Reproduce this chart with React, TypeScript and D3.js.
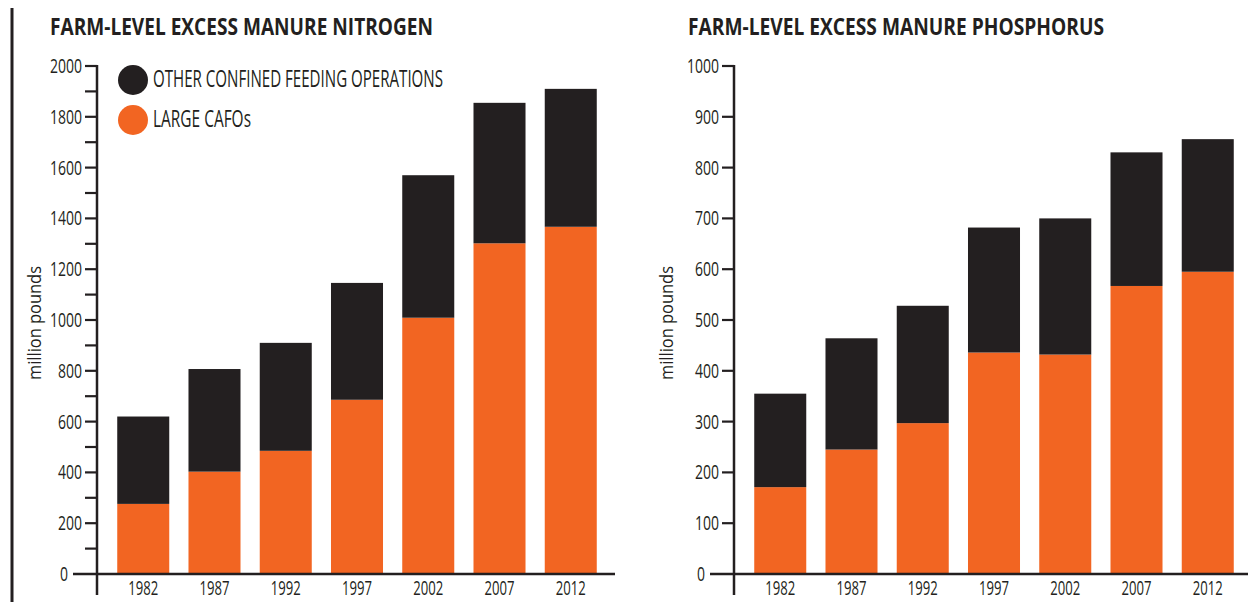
import React from 'react';
import * as d3 from 'd3';

const years = ['1982', '1987', '1992', '1997', '2002', '2007', '2012'];
const nitrogenCafo = [276, 403, 485, 686, 1009, 1302, 1367];
const nitrogenOther = [344, 404, 425, 460, 561, 553, 543];
const phosphorusCafo = [171, 245, 297, 436, 432, 567, 595];
const phosphorusOther = [184, 219, 231, 246, 268, 263, 261];
const seriesNames = ['LARGE CAFOs', 'OTHER CONFINED FEEDING OPERATIONS'];
const seriesColors = ['#F26522', '#231F20'];
const titles = ['FARM-LEVEL EXCESS MANURE NITROGEN', 'FARM-LEVEL EXCESS MANURE PHOSPHORUS'];
const yLabel = 'million pounds';

const INK = '#231F20';
const FONT = "'Open Sans', 'Noto Sans', sans-serif";
const Y0 = 574;
const YTOP = 66;

type PanelProps = {
  axisX: number;
  title: string;
  titleX: number;
  titleW: number;
  cafo: number[];
  other: number[];
  yMax: number;
  labelEvery: number;
  labelX: number;
  baselineEnd: number;
};

function Panel(p: PanelProps) {
  const y = d3.scaleLinear().domain([0, p.yMax]).range([Y0, YTOP]);
  const x = d3
    .scaleBand<string>()
    .domain(years)
    .range([p.axisX + 1, p.axisX + 519])
    .paddingInner(0.27)
    .paddingOuter(0.27);
  const rows = years.map((yr, i) => ({ year: yr, cafo: p.cafo[i], other: p.other[i] }));
  const stacked = d3.stack<any>().keys(['cafo', 'other'])(rows);
  const ticks = y.ticks(p.yMax / 100);
  return (
    <g>
      <text
        x={p.titleX}
        y={35}
        fontFamily={FONT}
        fontWeight={700}
        fontSize={24}
        fill={INK}
        textLength={p.titleW}
        lengthAdjust="spacingAndGlyphs"
      >
        {p.title}
      </text>
      {stacked.map((s, si) => (
        <g key={si} fill={seriesColors[si]}>
          {s.map((d, i) => (
            <rect
              key={i}
              x={x(years[i])}
              width={x.bandwidth()}
              y={y(d[1])}
              height={y(d[0]) - y(d[1])}
            />
          ))}
        </g>
      ))}
      <line x1={p.axisX} x2={p.axisX} y1={y(p.yMax) - 1} y2={595} stroke={INK} strokeWidth={2.5} />
      {ticks.map((t) => {
        const isZero = t === 0;
        const labeled = t % p.labelEvery === 0;
        const tickStart = isZero ? p.axisX - 24 : p.axisX - 12;
        return (
          <g key={t}>
            {!isZero && (
              <line x1={tickStart} x2={p.axisX} y1={y(t)} y2={y(t)} stroke={INK} strokeWidth={2.2} />
            )}
            {labeled && (
              <text
                x={isZero ? tickStart - 5 : tickStart - 3}
                y={y(t) + 7}
                textAnchor="end"
                fontFamily={FONT}
                fontWeight={500}
                fontSize={19.5}
                fill={INK}
                textLength={String(t).length * 8}
                lengthAdjust="spacingAndGlyphs"
              >
                {t}
              </text>
            )}
          </g>
        );
      })}
      <line x1={p.axisX - 24} x2={p.baselineEnd} y1={Y0} y2={Y0} stroke={INK} strokeWidth={2.5} />
      {years.map((yr) => (
        <text
          key={yr}
          x={(x(yr) as number) + x.bandwidth() / 2}
          y={595}
          textAnchor="middle"
          fontFamily={FONT}
          fontWeight={500}
          fontSize={20}
          fill={INK}
          textLength={30}
          lengthAdjust="spacingAndGlyphs"
        >
          {yr}
        </text>
      ))}
      <text
        transform={`translate(${p.labelX},323) rotate(-90)`}
        textAnchor="middle"
        fontFamily={FONT}
        fontWeight={500}
        fontSize={17.5}
        fill={INK}
        textLength={114}
        lengthAdjust="spacingAndGlyphs"
      >
        {yLabel}
      </text>
    </g>
  );
}

export default function App() {
  return (
    <svg
      width={1248}
      height={602}
      style={{ position: 'absolute', left: 0, top: 0, background: '#fff' }}
    >
      <rect x={0} y={0} width={1248} height={602} fill="#fff" />
      <line x1={12} x2={12} y1={8} y2={602} stroke={INK} strokeWidth={3} />
      <Panel
        axisX={97}
        title={titles[0]}
        titleX={50}
        titleW={383}
        cafo={nitrogenCafo}
        other={nitrogenOther}
        yMax={2000}
        labelEvery={200}
        labelX={41}
        baselineEnd={615}
      />
      <Panel
        axisX={734}
        title={titles[1]}
        titleX={688}
        titleW={416}
        cafo={phosphorusCafo}
        other={phosphorusOther}
        yMax={1000}
        labelEvery={100}
        labelX={673}
        baselineEnd={1248}
      />
      {[1, 0].map((si, k) => (
        <g key={si}>
          <circle cx={133} cy={80 + k * 40} r={15} fill={seriesColors[si]} />
          <text
            x={153}
            y={87 + k * 40}
            fontFamily={FONT}
            fontWeight={500}
            fontSize={23}
            fill={INK}
            textLength={si === 1 ? 290 : 98}
            lengthAdjust="spacingAndGlyphs"
          >
            {seriesNames[si]}
          </text>
        </g>
      ))}
    </svg>
  );
}
